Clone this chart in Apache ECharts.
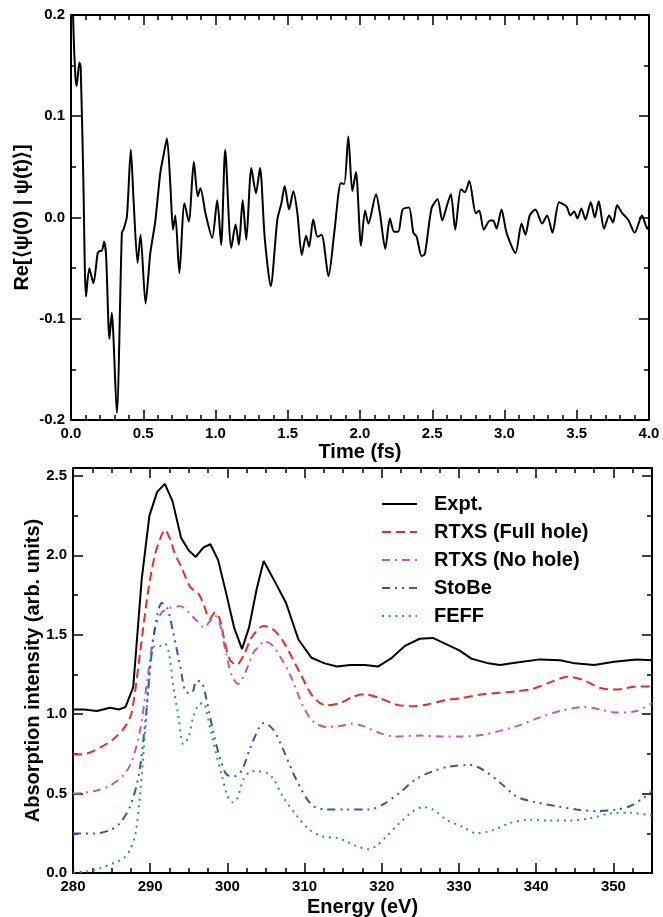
<!DOCTYPE html>
<html>
<head>
<meta charset="utf-8">
<title>Overlap and absorption spectra</title>
<script src="https://cdn.jsdelivr.net/npm/echarts@6/dist/echarts.min.js"></script>
<style>
  html, body { margin: 0; padding: 0; background: #fff; }
  #chart { width: 663px; height: 917px; }
</style>
</head>
<body>
<div id="chart"></div>
<script>
// ---- top panel: Re<psi(0)|psi(t)> vs time ----
const timeFs = [0, 0.016, 0.030, 0.039, 0.058, 0.067, 0.085, 0.104, 0.127, 0.155,
  0.185, 0.201, 0.213, 0.229, 0.243, 0.266, 0.282, 0.317, 0.352, 0.363,
  0.387, 0.414, 0.433, 0.461, 0.481, 0.516, 0.549, 0.583, 0.618, 0.641,
  0.664, 0.688, 0.706, 0.722, 0.750, 0.785, 0.815, 0.850, 0.877, 0.896,
  0.931, 0.977, 1.012, 1.039, 1.067, 1.109, 1.139, 1.162, 1.188, 1.213,
  1.248, 1.280, 1.308, 1.340, 1.382, 1.428, 1.456, 1.479, 1.509, 1.539,
  1.567, 1.597, 1.627, 1.648, 1.676, 1.706, 1.734, 1.782, 1.822, 1.868,
  1.891, 1.919, 1.947, 1.972, 2.007, 2.035, 2.058, 2.111, 2.138, 2.175,
  2.207, 2.235, 2.265, 2.295, 2.339, 2.369, 2.392, 2.426, 2.449, 2.495,
  2.537, 2.569, 2.604, 2.629, 2.659, 2.698, 2.726, 2.756, 2.802, 2.825,
  2.857, 2.899, 2.922, 2.945, 2.979, 3.014, 3.076, 3.118, 3.145, 3.175,
  3.214, 3.260, 3.295, 3.332, 3.378, 3.429, 3.456, 3.482, 3.505, 3.532,
  3.560, 3.597, 3.625, 3.652, 3.689, 3.724, 3.751, 3.779, 3.816, 3.855,
  3.901, 3.952, 3.988, 4.0]
const overlap = [0.30, 0.19, 0.14, 0.130, 0.153, 0.149, 0.04, -0.078, -0.050, -0.065,
  -0.035, -0.033, -0.033, -0.024, -0.038, -0.120, -0.094, -0.193, -0.015, -0.012,
  0.001, 0.067, 0.017, -0.045, -0.017, -0.085, -0.035, -0.004, 0.044, 0.062,
  0.078, 0.031, -0.012, 0.002, -0.055, 0.014, -0.004, 0.055, 0.021, 0.029,
  0.004, -0.020, 0.017, -0.027, 0.067, -0.030, -0.007, -0.027, 0.017, -0.022,
  0.049, 0.024, 0.049, -0.019, -0.068, -0.002, 0.014, 0.031, 0.008, 0.026,
  0.004, -0.037, -0.018, -0.029, -0.002, -0.019, -0.017, -0.058, -0.015, 0.034,
  0.033, 0.080, 0.026, 0.045, -0.028, 0.007, -0.006, 0.023, 0.004, -0.031,
  -0.001, -0.014, -0.014, 0.008, 0.010, -0.015, -0.019, -0.038, -0.036, 0.009,
  0.018, -0.003, 0.013, 0.023, -0.012, 0.028, 0.025, 0.036, 0.004, 0.007,
  -0.012, -0.003, -0.003, -0.011, 0.008, -0.015, -0.035, -0.006, -0.017, 0.002,
  0.008, -0.006, 0.002, -0.015, 0.015, 0.011, 0.002, 0.006, -0.001, 0.009,
  -0.002, 0.015, 0.000, 0.016, -0.011, 0.002, -0.005, 0.012, 0.004, -0.002,
  -0.015, 0.002, -0.011, -0.008]

// ---- bottom panel: absorption spectra ----
const exptE = [280, 281.4, 283.1, 284.8, 286, 286.8, 287.8, 288.9, 289.9, 290.9,
  291.9, 292.9, 294.0, 295.0, 295.9, 296.9, 297.8, 298.8, 299.8, 300.9,
  301.9, 302.8, 303.8, 304.7, 306.2, 307.6, 309.2, 310.9, 312.6, 314.2,
  315.9, 317.8, 319.5, 321.3, 323.0, 324.9, 326.6, 328.4, 330.1, 331.6,
  333.8, 335.3, 337.5, 340.5, 343.1, 345.0, 347.5, 350.1, 353.0, 355]
const exptI = [1.03, 1.03, 1.02, 1.04, 1.03, 1.045, 1.17, 1.85, 2.25, 2.40,
  2.45, 2.34, 2.11, 2.03, 1.99, 2.05, 2.07, 1.97, 1.77, 1.54,
  1.41, 1.545, 1.79, 1.965, 1.83, 1.70, 1.47, 1.355, 1.32, 1.30,
  1.31, 1.31, 1.30, 1.355, 1.43, 1.475, 1.48, 1.44, 1.40, 1.35,
  1.32, 1.31, 1.325, 1.345, 1.34, 1.32, 1.31, 1.33, 1.345, 1.34]

const fullHoleE = [280, 281.8, 283.5, 285.3, 286.8, 287.6, 288.7, 289.7, 290.6, 291.5,
  291.9, 292.6, 293.2, 294.1, 295.2, 296.3, 297.0, 297.7, 298.4, 299.0,
  299.6, 300.3, 301.2, 302.1, 303.1, 304.2, 304.7, 305.9, 307.2, 309.4,
  311.1, 312.8, 314.6, 316.3, 317.8, 319.8, 321.9, 323.9, 325.8, 328.4,
  330.1, 333.1, 337.5, 339.6, 341.8, 344.1, 346.1, 348.3, 350.4, 353.0, 355]
const fullHoleI = [0.746, 0.752, 0.79, 0.845, 0.925, 1.01, 1.39, 1.765, 2.0, 2.13,
  2.16, 2.10, 2.01, 1.92, 1.80, 1.755, 1.68, 1.60, 1.64, 1.60,
  1.47, 1.345, 1.31, 1.37, 1.48, 1.545, 1.555, 1.535, 1.46, 1.26,
  1.11, 1.055, 1.07, 1.11, 1.125, 1.10, 1.06, 1.05, 1.06, 1.09,
  1.10, 1.125, 1.145, 1.16, 1.20, 1.235, 1.215, 1.165, 1.155, 1.175, 1.175]

const noHoleE = [280, 282.7, 284.8, 286.6, 287.6, 288.7, 289.7, 290.6, 291.5, 292.6,
  293.9, 295.0, 296.0, 297.0, 297.8, 298.4, 299.0, 299.7, 300.6, 301.4,
  302.3, 303.4, 304.2, 304.7, 305.9, 308.1, 309.8, 311.1, 312.8, 314.6,
  316.1, 317.6, 319.8, 321.5, 325.0, 327.6, 330.1, 333.1, 337.5, 340.5,
  343.1, 346.1, 348.3, 350.4, 353.0, 355]
const noHoleI = [0.50, 0.515, 0.55, 0.62, 0.70, 0.90, 1.24, 1.535, 1.64, 1.67,
  1.68, 1.64, 1.59, 1.545, 1.59, 1.62, 1.575, 1.41, 1.24, 1.19,
  1.26, 1.39, 1.43, 1.46, 1.43, 1.25, 1.05, 0.955, 0.92, 0.925,
  0.94, 0.925, 0.88, 0.86, 0.865, 0.86, 0.86, 0.87, 0.925, 0.98,
  1.02, 1.045, 1.03, 1.01, 1.02, 1.07]

const stobeE = [280, 282.7, 284.8, 286.1, 287.4, 288.5, 289.4, 290.2, 290.9, 291.5,
  292.2, 293.0, 293.9, 294.7, 295.4, 296.0, 296.7, 297.3, 298.2, 299.1,
  299.9, 301.0, 301.9, 302.9, 304.2, 304.7, 305.9, 307.2, 308.9, 310.9,
  312.8, 315.4, 318.4, 320.1, 322.3, 324.4, 326.6, 328.7, 331.4, 333.1,
  335.3, 337.5, 340.0, 342.7, 345.2, 347.8, 350.4, 352.1, 353.8, 355]
const stobeI = [0.248, 0.248, 0.27, 0.315, 0.42, 0.61, 0.97, 1.39, 1.62, 1.70,
  1.67, 1.51, 1.30, 1.135, 1.135, 1.21, 1.20, 1.09, 0.88, 0.715,
  0.62, 0.61, 0.65, 0.78, 0.925, 0.945, 0.905, 0.78, 0.59, 0.43,
  0.40, 0.40, 0.40, 0.43, 0.505, 0.59, 0.64, 0.67, 0.68, 0.65,
  0.57, 0.48, 0.445, 0.42, 0.40, 0.39, 0.40, 0.42, 0.47, 0.515]

const feffE = [280, 281.8, 283.5, 285.3, 286.6, 287.4, 288.1, 288.7, 289.4, 290.0,
  290.6, 291.3, 291.9, 292.4, 293.0, 293.7, 294.3, 295.0, 295.6, 296.3,
  296.9, 297.5, 298.4, 299.3, 299.9, 300.6, 301.2, 302.1, 303.1, 303.8,
  305.1, 306.0, 307.2, 309.0, 310.7, 312.4, 314.2, 315.4, 316.7, 318.3,
  319.3, 320.6, 322.3, 324.1, 325.4, 326.6, 328.4, 330.5, 332.3, 334.4,
  336.6, 339.2, 341.8, 344.4, 347.0, 349.6, 352.1, 355]
const feffI = [0.004, 0.01, 0.03, 0.063, 0.095, 0.147, 0.25, 0.50, 0.925, 1.30,
  1.43, 1.43, 1.445, 1.39, 1.18, 0.97, 0.81, 0.86, 0.99, 1.06,
  1.07, 0.97, 0.78, 0.61, 0.50, 0.445, 0.46, 0.59, 0.64, 0.64,
  0.63, 0.59, 0.48, 0.36, 0.27, 0.23, 0.22, 0.20, 0.17, 0.15,
  0.17, 0.23, 0.315, 0.39, 0.415, 0.40, 0.335, 0.29, 0.25, 0.27,
  0.315, 0.335, 0.33, 0.33, 0.345, 0.375, 0.38, 0.36]

const legendNames = ['Expt.', 'RTXS (Full hole)', 'RTXS (No hole)', 'StoBe', 'FEFF']

const FONT = "'Liberation Sans', Arial, Helvetica, sans-serif"

function pairs(xs, ys) {
  return xs.map((x, i) => [x, ys[i]])
}

function fixed1(v) {
  const s = v.toFixed(1)
  return s === '-0.0' ? '0.0' : s
}

// shared look of the boxed axes (ticks pointing inwards)
function boxAxis(extra, showLabel) {
  return Object.assign({
    type: 'value',
    nameMoveOverlap: false,
    axisLine: { show: true, onZero: false, lineStyle: { color: '#000', width: 2 } },
    axisTick: { show: true, inside: true, length: 10, lineStyle: { color: '#000', width: 1.5 } },
    minorTick: { show: true, length: 5, lineStyle: { color: '#000', width: 1.5 } },
    splitLine: { show: false },
    axisLabel: {
      show: showLabel,
      color: '#000',
      fontFamily: FONT,
      fontWeight: 'bold',
      fontSize: 15
    },
    nameTextStyle: { color: '#000', fontFamily: FONT, fontWeight: 'bold', fontSize: 20 }
  }, extra)
}

const chart = echarts.init(document.getElementById('chart'))

const option = {
  animation: false,
  backgroundColor: '#fff',
  grid: [
    { left: 71, top: 15, width: 578, height: 405, outerBoundsMode: 'none' },
    { left: 73, top: 468, width: 579, height: 405, outerBoundsMode: 'none' }
  ],
  xAxis: [
    boxAxis({
      gridIndex: 0, position: 'bottom', min: 0, max: 4, interval: 0.5,
      minorTick: { show: true, splitNumber: 5, length: 5, lineStyle: { color: '#000', width: 1.5 } },
      name: 'Time (fs)', nameLocation: 'middle', nameGap: 22,
      axisLabel: { color: '#000', fontFamily: FONT, fontWeight: 'bold', fontSize: 15, margin: 6, formatter: fixed1 }
    }, true),
    boxAxis({
      gridIndex: 0, position: 'top', min: 0, max: 4, interval: 0.5,
      minorTick: { show: true, splitNumber: 5, length: 5, lineStyle: { color: '#000', width: 1.5 } }
    }, false),
    boxAxis({
      gridIndex: 1, position: 'bottom', min: 280, max: 355, interval: 10,
      minorTick: { show: true, splitNumber: 4, length: 5, lineStyle: { color: '#000', width: 1.5 } },
      name: 'Energy (eV)', nameLocation: 'middle', nameGap: 24,
      axisLabel: {
        color: '#000', fontFamily: FONT, fontWeight: 'bold', fontSize: 15, margin: 6,
        formatter: v => (Math.abs(v % 10) < 1e-6 ? String(Math.round(v)) : '')
      }
    }, true),
    boxAxis({
      gridIndex: 1, position: 'top', min: 280, max: 355, interval: 10,
      minorTick: { show: true, splitNumber: 4, length: 5, lineStyle: { color: '#000', width: 1.5 } }
    }, false)
  ],
  yAxis: [
    boxAxis({
      gridIndex: 0, position: 'left', min: -0.2, max: 0.2, interval: 0.1,
      minorTick: { show: true, splitNumber: 2, length: 5, lineStyle: { color: '#000', width: 1.5 } },
      name: 'Re[\u27e8\u03c8(0) | \u03c8(t)\u27e9]', nameLocation: 'middle', nameGap: 39,
      axisLabel: { color: '#000', fontFamily: FONT, fontWeight: 'bold', fontSize: 15, margin: 6, formatter: fixed1 }
    }, true),
    boxAxis({
      gridIndex: 0, position: 'right', min: -0.2, max: 0.2, interval: 0.1,
      minorTick: { show: true, splitNumber: 2, length: 5, lineStyle: { color: '#000', width: 1.5 } }
    }, false),
    boxAxis({
      gridIndex: 1, position: 'left', min: 0, max: 2.55, interval: 0.5,
      minorTick: { show: true, splitNumber: 2, length: 5, lineStyle: { color: '#000', width: 1.5 } },
      name: 'Absorption intensity (arb. units)', nameLocation: 'middle', nameGap: 30,
      axisLabel: {
        color: '#000', fontFamily: FONT, fontWeight: 'bold', fontSize: 15, margin: 6,
        formatter: v => (Math.abs(v * 2 - Math.round(v * 2)) < 1e-6 ? fixed1(v) : '')
      }
    }, true),
    boxAxis({
      gridIndex: 1, position: 'right', min: 0, max: 2.55, interval: 0.5,
      minorTick: { show: true, splitNumber: 2, length: 5, lineStyle: { color: '#000', width: 1.5 } }
    }, false)
  ],
  legend: {
    data: legendNames,
    orient: 'vertical',
    left: 381,
    top: 494,
    padding: 0,
    itemWidth: 35,
    itemHeight: 14,
    itemGap: 8,
    itemStyle: { opacity: 0 },
    textStyle: { color: '#000', fontFamily: FONT, fontWeight: 'bold', fontSize: 20, padding: [0, 0, 0, 12] }
  },
  series: [
    {
      name: 'overlap', type: 'line', xAxisIndex: 0, yAxisIndex: 0,
      data: pairs(timeFs, overlap), showSymbol: false, symbol: 'none', smooth: 0.25, clip: true,
      lineStyle: { color: '#000', width: 2 }
    },
    {
      name: 'Expt.', type: 'line', xAxisIndex: 2, yAxisIndex: 2,
      data: pairs(exptE, exptI), showSymbol: false, symbol: 'none',
      itemStyle: { color: '#000' },
      lineStyle: { color: '#000', width: 2 }
    },
    {
      name: 'RTXS (Full hole)', type: 'line', xAxisIndex: 2, yAxisIndex: 2,
      data: pairs(fullHoleE, fullHoleI), showSymbol: false, symbol: 'none', smooth: 0.3,
      itemStyle: { color: '#f02828' },
      lineStyle: { color: '#f02828', width: 2, type: [9, 5] }
    },
    {
      name: 'RTXS (No hole)', type: 'line', xAxisIndex: 2, yAxisIndex: 2,
      data: pairs(noHoleE, noHoleI), showSymbol: false, symbol: 'none', smooth: 0.3,
      itemStyle: { color: '#c058c0' },
      lineStyle: { color: '#c058c0', width: 2, type: [8, 5, 2, 5] }
    },
    {
      name: 'StoBe', type: 'line', xAxisIndex: 2, yAxisIndex: 2,
      data: pairs(stobeE, stobeI), showSymbol: false, symbol: 'none', smooth: 0.3,
      itemStyle: { color: '#3355b0' },
      lineStyle: { color: '#3355b0', width: 2, type: [8, 5, 2, 5, 2, 5] }
    },
    {
      name: 'FEFF', type: 'line', xAxisIndex: 2, yAxisIndex: 2,
      data: pairs(feffE, feffI), showSymbol: false, symbol: 'none', smooth: 0.3,
      itemStyle: { color: '#20a060' },
      lineStyle: { color: '#20a060', width: 2, type: [2, 4.7] }
    }
  ]
}

chart.setOption(option)
</script>
</body>
</html>
